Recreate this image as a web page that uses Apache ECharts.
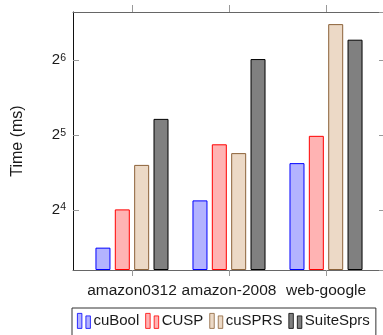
<!DOCTYPE html>
<html>
<head>
<meta charset="utf-8">
<script src="https://cdn.jsdelivr.net/npm/echarts@6/dist/echarts.min.js"></script>
<style>
  html, body { margin: 0; padding: 0; background: #fff; }
  #chart { width: 383px; height: 335px; }
</style>
</head>
<body>
<div id="chart"></div>
<script>
// Runtime per graph (ms)
const categories = ['amazon0312', 'amazon-2008', 'web-google'];
const seriesNames = ['cuBool', 'CUSP', 'cuSPRS', 'SuiteSprs'];
const cuBool    = [11.3, 17.5, 24.7];
const cusp      = [16.1, 29.4, 31.8];
const cuSPRS    = [24.3, 27.1, 89.4];
const suiteSprs = [37.2, 64.7, 77.4];
const yTickValues = [16, 32, 64];

const FONT = 'Liberation Sans';
const TEXT = '#1a1a1a';
const Y_MIN = Math.pow(2, 3.2);
const Y_MAX = 100;
const X_MIN = -0.608;
const X_MAX = 2.608;
const catIdx = categories.map((c, i) => i);

const styles = [
  { color: '#b3b3ff', borderColor: '#0000ff' },
  { color: '#ffb3b3', borderColor: '#ff0000' },
  { color: '#ecd9c6', borderColor: '#8c6239' },
  { color: '#808080', borderColor: '#000000' }
];
const values = [cuBool, cusp, cuSPRS, suiteSprs];

// two-bar legend glyph
const legendIcon = 'path://M0,0H4.5V15H0Z M8.5,2.5H13V15H8.5Z';

function yLabel(v) {
  const e = Math.log2(v);
  const r = Math.round(e);
  if (Math.abs(e - r) > 1e-6 || yTickValues.indexOf(Math.round(v)) < 0) return '';
  return '{b|2}{s|' + r + '}';
}

const chart = echarts.init(document.getElementById('chart'), null, { renderer: 'canvas' });
chart.setOption({
  animation: false,
  backgroundColor: '#fff',
  textStyle: { fontFamily: FONT, color: TEXT },
  grid: { left: 73, top: 12, width: 312, height: 258, outerBoundsMode: 'none', containLabel: false },
  legend: {
    left: 72, top: 308,
    padding: [5, 6, 14, 5],
    borderColor: '#333', borderWidth: 1,
    itemWidth: 13, itemHeight: 15, itemGap: 6,
    icon: legendIcon,
    itemStyle: { borderWidth: 0.8 },
    textStyle: { fontFamily: FONT, fontSize: 15, color: TEXT, padding: [0, 0, 0, -2] },
    data: seriesNames
  },
  xAxis: [
    {
      type: 'value', position: 'bottom', min: X_MIN, max: X_MAX,
      axisLine: { show: true, onZero: false, lineStyle: { color: '#666', width: 1 } },
      axisTick: { show: true, inside: false, length: 6, customValues: catIdx, lineStyle: { color: '#999' } },
      axisLabel: {
        show: true, customValues: catIdx, margin: 13,
        fontFamily: FONT, fontSize: 15.5, color: TEXT,
        formatter: v => categories[Math.round(v)] || ''
      },
      splitLine: { show: false }
    },
    {
      type: 'value', position: 'top', min: X_MIN, max: X_MAX,
      axisLine: { show: true, onZero: false, lineStyle: { color: '#666', width: 1 } },
      axisTick: { show: true, inside: false, length: 7, customValues: catIdx, lineStyle: { color: '#999' } },
      axisLabel: { show: false },
      splitLine: { show: false }
    }
  ],
  yAxis: [
    {
      type: 'log', logBase: 2, min: Y_MIN, max: Y_MAX, startValue: Y_MIN,
      position: 'left',
      name: 'Time (ms)', nameLocation: 'middle', nameGap: 47,
      nameTextStyle: { fontFamily: FONT, fontSize: 16, color: TEXT },
      axisLine: { show: true, onZero: false, lineStyle: { color: '#111', width: 1 } },
      axisTick: { show: true, inside: true, length: 6, lineStyle: { color: '#999' } },
      axisLabel: {
        show: true, margin: 7, showMinLabel: false, showMaxLabel: false,
        formatter: yLabel,
        rich: {
          b: { fontFamily: FONT, fontSize: 15, color: TEXT, lineHeight: 16 },
          s: { fontFamily: FONT, fontSize: 10.5, color: TEXT, lineHeight: 11, verticalAlign: 'top' }
        }
      },
      splitLine: { show: false }
    },
    {
      type: 'log', logBase: 2, min: Y_MIN, max: Y_MAX,
      position: 'right',
      axisLine: { show: true, onZero: false, lineStyle: { color: '#111', width: 1 } },
      axisTick: { show: true, inside: true, length: 6, lineStyle: { color: '#999' } },
      axisLabel: { show: false },
      splitLine: { show: false }
    }
  ],
  series: seriesNames.map((name, k) => ({
    name: name,
    type: 'bar',
    xAxisIndex: 0,
    yAxisIndex: 0,
    barWidth: 15,
    barGap: '29%',
    itemStyle: { color: styles[k].color, borderColor: styles[k].borderColor, borderWidth: 1 },
    data: values[k].map((v, i) => [i, v])
  }))
});
</script>
</body>
</html>
